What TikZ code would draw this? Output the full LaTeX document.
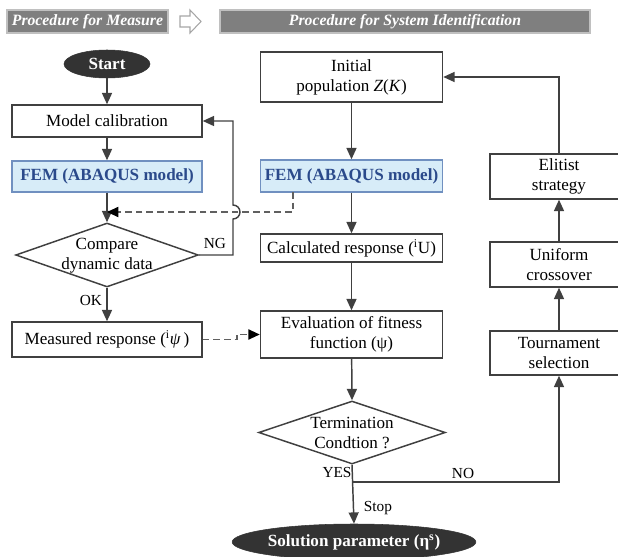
\documentclass[tikz,border=0pt]{standalone}
\usepackage{fontspec}
\setmainfont{Liberation Serif}
\usetikzlibrary{arrows.meta,shapes.geometric}
\definecolor{linec}{HTML}{404040}
\definecolor{hdrgray}{HTML}{7F7F7F}
\definecolor{hdrborder}{HTML}{C0C0C0}
\definecolor{hdrarrow}{HTML}{A6A6A6}
\definecolor{femfill}{HTML}{D7ECF8}
\definecolor{femdraw}{HTML}{7090C0}
\definecolor{femtext}{HTML}{2B4A8B}
\definecolor{termfill}{HTML}{333333}
\definecolor{dashc}{HTML}{606060}
\begin{document}
\begin{tikzpicture}[x=0.75pt,y=-0.75pt,
  mainfont/.style={font=\fontsize{12.8}{15}\selectfont},
  box/.style={draw=linec,line width=1.1pt,fill=white,inner sep=0pt,align=center,mainfont},
  fembox/.style={draw=femdraw,line width=1.1pt,fill=femfill,inner sep=0pt,align=center,text=femtext,font=\fontsize{12.8}{15}\selectfont\bfseries},
  hdr/.style={draw=hdrborder,line width=0.8pt,fill=hdrgray,text=white,inner sep=0pt,font=\fontsize{11.8}{14}\selectfont\bfseries\itshape},
  termnode/.style={ellipse,fill=termfill,draw=termfill,text=white,inner sep=0pt,font=\fontsize{12.8}{15}\selectfont\bfseries},
  dia/.style={diamond,draw=linec,line width=1.1pt,fill=white,inner sep=0pt},
  diatext/.style={align=center,mainfont,inner sep=0pt},
  lbl/.style={font=\fontsize{11.5}{13}\selectfont,inner sep=0pt},
  conn/.style={draw=linec,line width=1.1pt,-{Triangle[length=8.5pt,width=7.5pt]}},
  dashconn/.style={draw=dashc,line width=1.4pt,dash pattern=on 5pt off 3pt,-{Triangle[length=8.5pt,width=7.5pt,color=black]}}
]
\useasboundingbox (0,0) rectangle (618,557);
\clip (0,0) rectangle (618,557);

% headers
\node[hdr,minimum width=120.75pt,minimum height=17.25pt] (hdrL) at (87.5,21.5) {Procedure for Measure};
\node[hdr,minimum width=277.5pt,minimum height=17.25pt] (hdrR) at (405,21.5) {Procedure for System Identification};
\draw[draw=hdrarrow,line width=0.8pt,line join=miter] (180,16) -- (190,16) -- (190,10) -- (201,21.5) -- (190,33) -- (190,27) -- (180,27) -- cycle;

% left column
\node[termnode,minimum width=64.5pt,minimum height=21pt] (start) at (107,64) {Start};
\node[box,minimum width=142.5pt,minimum height=24pt] (calib) at (107,121) {Model calibration};
\node[fembox,minimum width=142.5pt,minimum height=23.25pt] (feml) at (107,176.5) {FEM (ABAQUS model)};
\node[dia,minimum width=137pt,minimum height=48pt] (cmp) at (107,255) {};
\node[diatext] (cmptext) at (107,255.5) {Compare\\dynamic data};
\node[box,minimum width=142.5pt,minimum height=26.25pt] (meas) at (107,339.5) {Measured response (\textsuperscript{i}\textit{ψ}\,)};

% right column
\node[box,minimum width=136.5pt,minimum height=37.5pt] (init) at (351.5,77) {Initial\\population \textit{Z}(\textit{K})};
\node[fembox,minimum width=136.5pt,minimum height=24pt] (femr) at (351.5,176) {FEM (ABAQUS model)};
\node[box,minimum width=136.5pt,minimum height=21pt] (calc) at (351.5,248) {Calculated response (\textsuperscript{i}U)};
\node[box,minimum width=136.5pt,minimum height=35.25pt] (eval) at (351.5,334.5) {Evaluation of fitness\\function (ψ)};
\node[dia,minimum width=140pt,minimum height=47.25pt] (term) at (352,432.5) {};
\node[diatext] (termtext) at (352,433) {Termination\\Condtion ?};
\node[termnode,minimum width=141pt,minimum height=27pt] (sol) at (354,542) {Solution parameter (η\textsuperscript{s})};

% GA column
\node[box,minimum width=103.5pt,minimum height=33.75pt] (elit) at (559,176.5) {Elitist\\strategy};
\node[box,minimum width=103.5pt,minimum height=33.75pt] (unif) at (559,264.5) {Uniform\\crossover};
\node[box,minimum width=103.5pt,minimum height=33pt] (tour) at (559,353) {Tournament\\selection};

% coordinates
\coordinate (merge) at (107,212);
\coordinate (dstart) at (293,192);
\coordinate (hopB) at (233,219);
\coordinate (jog) at (237,339.5);
\coordinate (nob) at (352,482);

% connectors left
\draw[conn] (start) -- (calib);
\draw[conn] (calib) -- (feml);
\draw[conn] (feml) -- (cmp.north);
\draw[conn] (cmp.south) -- (meas.north);
\draw[conn] (cmp.east) -| (hopB) arc[start angle=-90,end angle=90,radius=5.25pt] |- (calib.east);
\draw[dashconn] (dstart) |- (merge);
\draw[dashconn] (meas.east) -- (jog) |- (eval.west);

% connectors right
\draw[conn] (init) -- (femr);
\draw[conn] (femr) -- (calc);
\draw[conn] (calc) -- (eval);
\draw[conn] (eval) -- (term.north);
\draw[conn] (term.south) -- (sol.north);
\draw[conn] (nob) -| (tour.south);
\draw[conn] (tour) -- (unif);
\draw[conn] (unif) -- (elit);
\draw[conn] (elit.north) |- (init.east);

% labels
\node[lbl] (ng) at (215,243) {NG};
\node[lbl] (ok) at (91,300) {OK};
\node[lbl] (yes) at (337,472) {YES};
\node[lbl] (no) at (463,473) {NO};
\node[lbl] (stop) at (378,508) {Stop};
\end{tikzpicture}
\end{document}
